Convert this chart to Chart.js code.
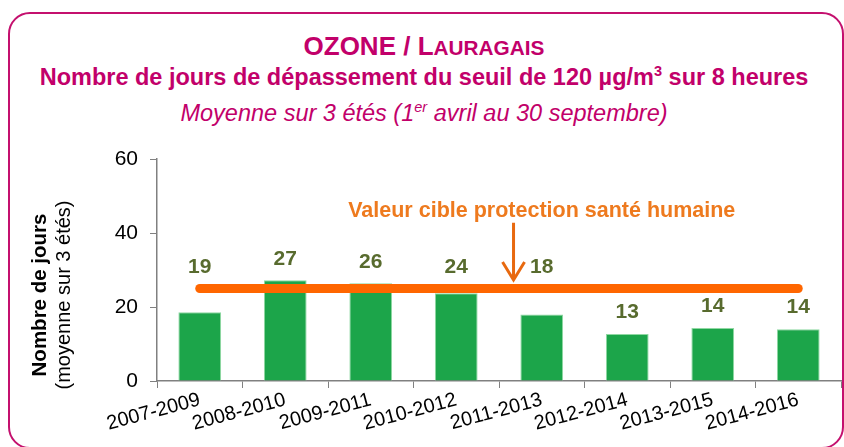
<!DOCTYPE html>
<html>
<head>
<meta charset="utf-8">
<script src="https://cdn.jsdelivr.net/npm/chart.js@4.4.1/dist/chart.umd.min.js"></script>
<style>
  body { margin: 0; background: #fff; font-family: "Liberation Sans", Arial, sans-serif; }
  #wrap { position: relative; width: 844px; height: 447px; overflow: hidden; }
  #frame { position: absolute; left: 8px; top: 12px; width: 836px; height: 437px; border: 2px solid #C4106E; border-radius: 22px; box-sizing: border-box; }
  .t { position: absolute; left: 0; width: 848px; text-align: center; color: #C2006A; white-space: nowrap; }
  #t1 { top: 31px; font-size: 26px; font-weight: bold; }
  #t2 { top: 64px; font-size: 23.5px; font-weight: bold; }
  #t3 { top: 100px; font-size: 23.5px; font-style: italic; }
  sup { font-size: 62%; line-height: 0; vertical-align: 0.6em; }
  #chart { position: absolute; left: 0; top: 0; }
</style>
</head>
<body>
<div id="wrap">
  <div id="frame"></div>
  <div class="t" id="t1">OZONE / L<span style="font-size:80%">AURAGAIS</span></div>
  <div class="t" id="t2">Nombre de jours de dépassement du seuil de 120 µg/m<sup>3</sup> sur 8 heures</div>
  <div class="t" id="t3">Moyenne sur 3 étés (1<sup>er</sup> avril au 30 septembre)</div>
  <canvas id="chart" width="844" height="447"></canvas>
</div>
<script>
let periods = ['2007-2009', '2008-2010', '2009-2011', '2010-2012', '2011-2013', '2012-2014', '2013-2015', '2014-2016'];
let joursMoyens = [18.6, 27.2, 26.4, 23.7, 18.0, 12.7, 14.3, 14.0];
let joursLabels = ['19', '27', '26', '24', '18', '13', '14', '14'];
let valeurCible = [25, 25, 25, 25, 25, 25, 25, 25];
let yTicks = [0, 20, 40, 60];

// annotation of the target value, in data units (category index / days)
let cibleText = 'Valeur cible protection santé humaine';
let cibleTextPos = { x: 4, y: 45.8 };
let cibleArrow = { x: 3.67, from: 42.8, to: 27.3 };

const FONT = '"Liberation Sans", Arial, sans-serif';

let overlay = {
    id: 'overlay',
    afterDatasetsDraw(chart) {
        let ctx = chart.ctx;
        let xs = chart.scales.x, ys = chart.scales.y;
        let bars = chart.getDatasetMeta(1).data;
        let lineY = ys.getPixelForValue(valeurCible[0]);

        // value labels: above the bar, or above the target line when the bar reaches it
        ctx.save();
        ctx.fillStyle = '#586B2E';
        ctx.font = 'bold 21px ' + FONT;
        ctx.textAlign = 'center';
        ctx.textBaseline = 'middle';
        bars.forEach((b, i) => {
            let y = b.y < lineY + 30 ? Math.min(b.y, lineY) - 21 : b.y - 22;
            ctx.fillText(joursLabels[i], b.x, y);
        });

        // target annotation
        let step = xs.getPixelForValue(1) - xs.getPixelForValue(0);
        let tx = xs.getPixelForValue(0) + step * cibleTextPos.x;
        ctx.fillStyle = '#EE7A1E';
        ctx.font = 'bold 21.5px ' + FONT;
        ctx.fillText(cibleText, tx, ys.getPixelForValue(cibleTextPos.y));

        let ax = xs.getPixelForValue(0) + step * cibleArrow.x;
        let y1 = ys.getPixelForValue(cibleArrow.from), y2 = ys.getPixelForValue(cibleArrow.to);
        ctx.strokeStyle = '#E8690F';
        ctx.lineWidth = 3;
        ctx.beginPath();
        ctx.moveTo(ax, y1);
        ctx.lineTo(ax, y2);
        ctx.moveTo(ax - 11, y2 - 18);
        ctx.lineTo(ax, y2);
        ctx.lineTo(ax + 11, y2 - 18);
        ctx.stroke();
        ctx.restore();
    },
    afterDraw(chart) {
        // two-style y axis title
        let ctx = chart.ctx;
        ctx.save();
        ctx.fillStyle = '#000';
        ctx.textAlign = 'center';
        ctx.textBaseline = 'middle';
        ctx.translate(40, 295);
        ctx.rotate(-Math.PI / 2);
        ctx.font = 'bold 20.5px ' + FONT;
        ctx.fillText('Nombre de jours', 0, 0);
        ctx.font = '20px ' + FONT;
        ctx.fillText('(moyenne sur 3 étés)', 0, 24);
        ctx.restore();
    }
};

let ctx = document.getElementById('chart').getContext('2d');
new Chart(ctx, {
    type: 'bar',
    data: {
        labels: periods,
        datasets: [{
            type: 'line',
            label: 'Valeur cible',
            data: valeurCible,
            borderColor: '#FF6600',
            borderWidth: 9,
            borderCapStyle: 'round',
            pointRadius: 0,
            order: 0
        }, {
            label: 'Nombre de jours',
            data: joursMoyens,
            backgroundColor: '#1CA54A',
            borderColor: '#8FD8A2',
            borderWidth: 1,
            categoryPercentage: 1,
            barPercentage: 0.5,
            order: 1
        }]
    },
    options: {
        responsive: false,
        animation: false,
        layout: { padding: { top: 159, right: 3, left: 0, bottom: 0 } },
        plugins: { legend: { display: false }, tooltip: { enabled: false } },
        scales: {
            x: {
                grid: { drawOnChartArea: false, tickLength: 7, color: '#808080', offset: true },
                border: { color: '#808080', width: 1.5 },
                ticks: { color: '#000', font: { family: FONT, size: 20 }, autoSkip: false, minRotation: 15, maxRotation: 15, padding: 0 },
                afterFit: s => { s.height = 66; }
            },
            y: {
                min: 0, max: 60,
                grid: { drawOnChartArea: false, tickLength: 7, color: '#808080' },
                border: { color: '#808080', width: 1.5 },
                afterBuildTicks: s => { s.ticks = yTicks.map(v => ({ value: v })); },
                ticks: { color: '#000', font: { family: FONT, size: 21 }, padding: 12 },
                afterFit: s => { s.width = 157; }
            }
        }
    },
    plugins: [overlay]
});
</script>
</body>
</html>
